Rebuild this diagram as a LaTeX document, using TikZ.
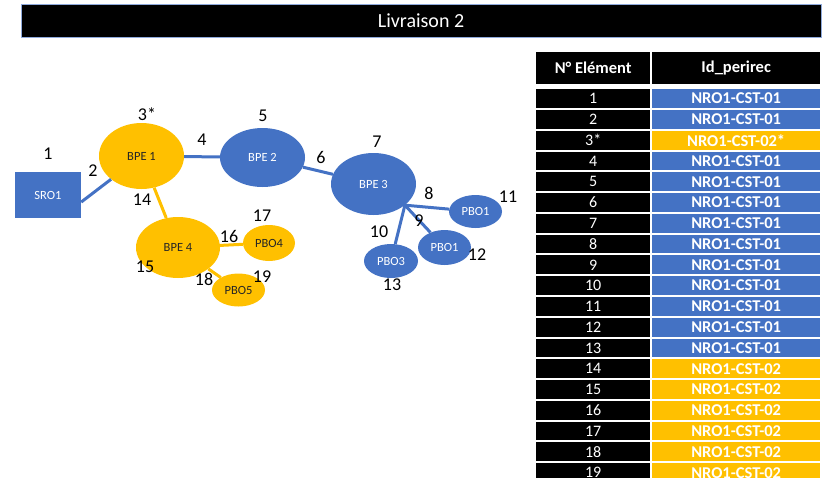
\documentclass[tikz,border=0pt]{standalone}
\usepackage{fontspec}
\setmainfont{Carlito}
\usetikzlibrary{shapes.geometric}
\definecolor{oblue}{HTML}{4472C4}
\definecolor{oyel}{HTML}{FFC000}
\definecolor{odark}{HTML}{262626}
\definecolor{oedge}{HTML}{8FAADC}
\tikzset{
  x=1pt,y=-1pt,
  bnode/.style={ellipse,fill=oblue,draw=none,inner sep=0pt,text=white,font=\fontsize{12.5}{12.5}\selectfont},
  ynode/.style={ellipse,fill=oyel,draw=none,inner sep=0pt,text=odark,font=\fontsize{12.5}{12.5}\selectfont},
  bline/.style={draw=oblue,line width=3pt},
  yline/.style={draw=oyel,line width=3pt},
  lbl/.style={inner sep=0pt,font=\fontsize{18}{18}\selectfont,text=black},
  numcell/.style={fill=black,text=white,minimum width=114pt,minimum height=18.8pt,inner sep=0pt,anchor=north west,font=\fontsize{16}{16}\selectfont},
  idcell/.style={text=white,minimum width=168pt,minimum height=18.8pt,inner sep=0pt,anchor=north west,font=\bfseries\fontsize{16.5}{16.5}\selectfont},
  hdcell/.style={fill=black,text=white,minimum height=32pt,inner sep=0pt,anchor=north west,font=\bfseries\fontsize{16.5}{16.5}\selectfont}
}
\begin{document}
\begin{tikzpicture}
\useasboundingbox (0,0) rectangle (825,477);
\clip (0,0) rectangle (825,477);
% title bar
\node[fill=black,draw=oedge,line width=0.6pt,minimum width=800.5pt,minimum height=32.7pt,inner sep=0pt,anchor=north west,text=white,font=\fontsize{20}{20}\selectfont] (title) at (20.5,4) {Livraison 2};
% table header
\node[hdcell,minimum width=114pt] (h1) at (536,52) {N° Elément};
\node[hdcell,minimum width=168pt] (h2) at (652,52) {Id\_perirec};
% table rows
\foreach \n/\lab/\id/\col [count=\i from 0] in {
  1/1/NRO1-CST-01/oblue, 2/2/NRO1-CST-01/oblue, 3/3*/NRO1-CST-02*/oyel,
  4/4/NRO1-CST-01/oblue, 5/5/NRO1-CST-01/oblue, 6/6/NRO1-CST-01/oblue,
  7/7/NRO1-CST-01/oblue, 8/8/NRO1-CST-01/oblue, 9/9/NRO1-CST-01/oblue,
  10/10/NRO1-CST-01/oblue, 11/11/NRO1-CST-01/oblue, 12/12/NRO1-CST-01/oblue,
  13/13/NRO1-CST-01/oblue, 14/14/NRO1-CST-02/oyel, 15/15/NRO1-CST-02/oyel,
  16/16/NRO1-CST-02/oyel, 17/17/NRO1-CST-02/oyel, 18/18/NRO1-CST-02/oyel,
  19/19/NRO1-CST-02/oyel}{
  \node[numcell] (n\n) at (536,89+\i*20.78) {\lab};
  \node[idcell,fill=\col] (d\n) at (652,89+\i*20.78) {\id};
}
% nodes
\node[fill=oblue,minimum width=66pt,minimum height=46pt,inner sep=0pt,text=white,font=\fontsize{12.5}{12.5}\selectfont] (SRO1) at (48,195) {SRO1};
\node[ynode,minimum width=85pt,minimum height=66pt] (BPE1) at (141.5,156) {BPE 1};
\node[bnode,minimum width=85pt,minimum height=59pt] (BPE2) at (262.5,157.5) {BPE 2};
\node[bnode,minimum width=85pt,minimum height=62pt] (BPE3) at (373.5,184) {BPE 3};
\node[bnode,minimum width=53pt,minimum height=33pt] (PBOa) at (475.5,211.5) {PBO1};
\node[bnode,minimum width=53pt,minimum height=35pt] (PBOb) at (444.5,247.5) {PBO1};
\node[bnode,minimum width=54pt,minimum height=34pt] (PBO3) at (391,261) {PBO3};
\node[ynode,minimum width=84pt,minimum height=61pt] (BPE4) at (178,247.5) {BPE 4};
\node[ynode,minimum width=52pt,minimum height=36pt] (PBO4) at (269,243) {PBO4};
\node[ynode,minimum width=53pt,minimum height=33pt] (PBO5) at (238.5,290) {PBO5};
\coordinate (hub) at (BPE3.-34);
% connectors
\draw[bline] (SRO1.-12) -- (BPE1);
\draw[bline] (BPE1) -- (BPE2);
\draw[bline] (BPE2) -- (BPE3);
\draw[bline] (hub) -- (PBOa);
\draw[bline] (hub) -- (PBOb);
\draw[bline] (hub) -- (PBO3);
\draw[yline] (BPE1) -- (BPE4);
\draw[yline] (BPE4) -- (PBO4);
\draw[yline] (BPE4) -- (PBO5);
% labels
\node[lbl] (l1) at (48,154) {1};
\node[lbl] (l2) at (93,171) {2};
\node[lbl] (l3) at (147,114) {3*};
\node[lbl] (l4) at (202,140) {4};
\node[lbl] (l5) at (263,116) {5};
\node[lbl] (l6) at (321,157) {6};
\node[lbl] (l7) at (377,142) {7};
\node[lbl] (l8) at (429,193) {8};
\node[lbl] (l9) at (419,221) {9};
\node[lbl] (l10) at (379,232) {10};
\node[lbl] (l11) at (508,197) {11};
\node[lbl] (l12) at (477,255) {12};
\node[lbl] (l13) at (392,285) {13};
\node[lbl] (l14) at (142,200) {14};
\node[lbl] (l15) at (145,267) {15};
\node[lbl] (l16) at (229,236) {16};
\node[lbl] (l17) at (262,216) {17};
\node[lbl] (l18) at (204,279) {18};
\node[lbl] (l19) at (262,277) {19};
\end{tikzpicture}
\end{document}
